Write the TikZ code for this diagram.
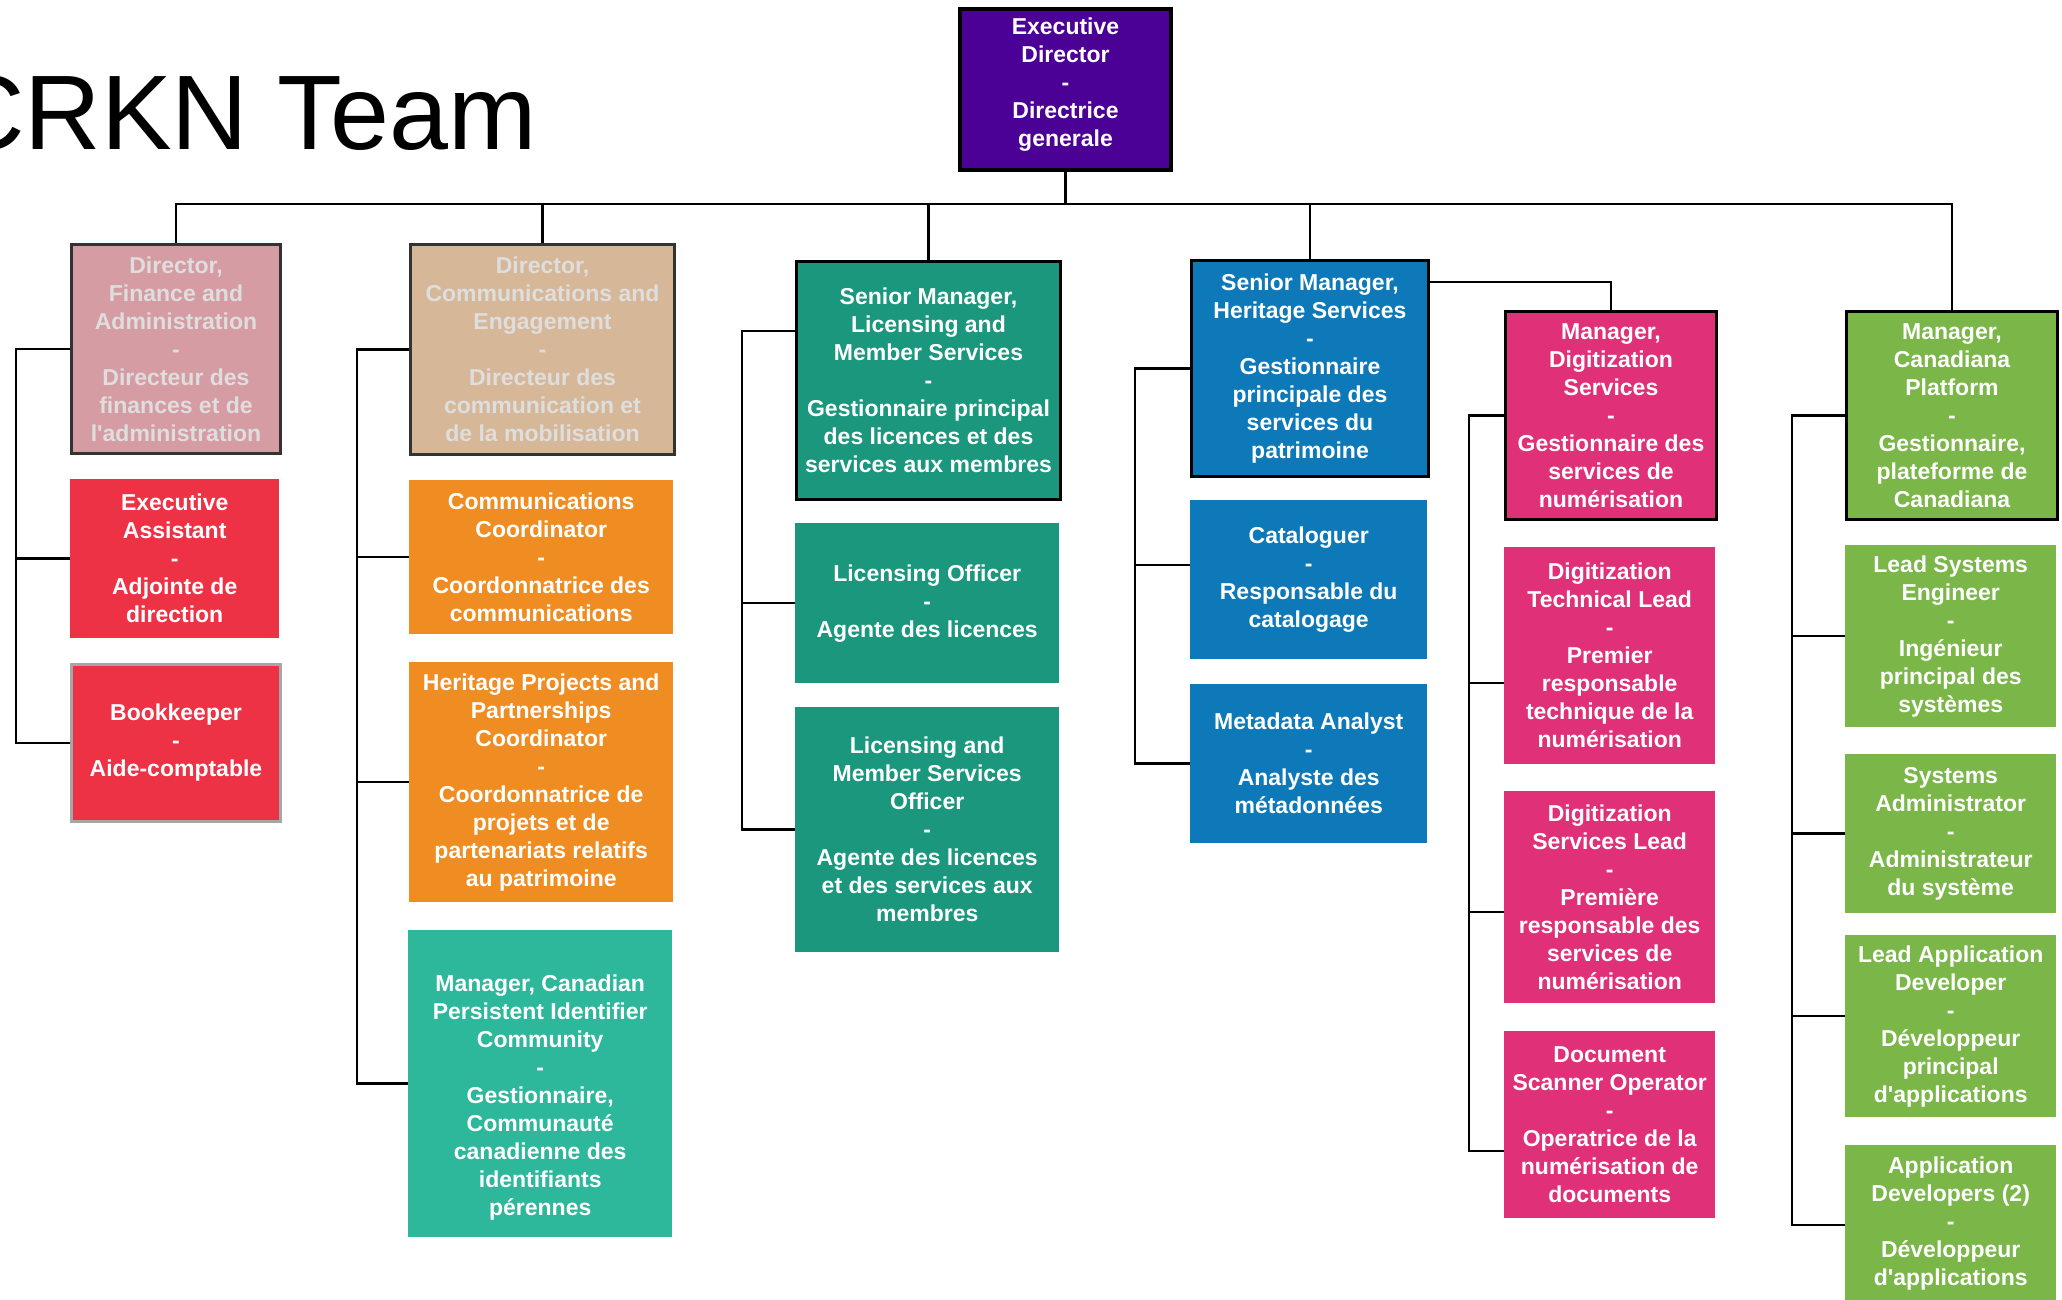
\documentclass[tikz,border=0pt]{standalone}
\usepackage{fontspec}
\setmainfont{Liberation Sans}
\usepackage{xcolor}
\usetikzlibrary{calc}
\definecolor{edpurple}{HTML}{4B0096}
\definecolor{finpink}{HTML}{D69CA3}
\definecolor{comtan}{HTML}{D6B899}
\definecolor{dimtext}{HTML}{DEDEDE}
\definecolor{adminred}{HTML}{EE3246}
\definecolor{commorange}{HTML}{F08D22}
\definecolor{pidteal}{HTML}{2DB89C}
\definecolor{licteal}{HTML}{1A977C}
\definecolor{herblue}{HTML}{0E79B9}
\definecolor{digpink}{HTML}{E03078}
\definecolor{canagreen}{HTML}{7AB648}
\newcommand{\boxfont}{\bfseries\fontsize{23}{28}\selectfont}
\newcommand{\q}{\textquotesingle}
\tikzset{
  box/.style={rectangle,anchor=north west,align=center,inner sep=0pt,text=white,font=\boxfont},
  lead/.style={box,draw=black,line width=3pt},
  dimbox/.style={lead,draw=black!80,text=dimtext},
  link/.style={line width=2.5pt},
  colA/.style={minimum width=209pt},
  colB/.style={minimum width=264pt},
  colC/.style={minimum width=237pt},
  colD/.style={minimum width=211pt}
}

\begin{document}
\begin{tikzpicture}[x=1pt,y=-1pt]
  \useasboundingbox (0,0) rectangle (2062,1300);
  \node[anchor=base west,inner sep=0pt,font=\fontsize{106}{120}\selectfont] (title) at (-52,150) {CRKN Team};

  \node[lead,line width=4pt,fill=edpurple,minimum width=211pt,minimum height=161pt] (ed) at (958,7)
    {Executive\\Director\\-\\Directrice\\generale\rule[-14pt]{0pt}{1pt}};

  \node[dimbox,colA,fill=finpink,minimum height=209pt] (dfa) at (70,243)
    {Director,\\Finance and\\Administration\\-\\Directeur des\\finances et de\\l\q administration};
  \node[box,colA,fill=adminred,minimum height=159pt] (ea) at (70,479)
    {Executive\\Assistant\\-\\Adjointe de\\direction};
  \node[box,colA,fill=adminred,draw=gray!70,line width=3pt,minimum height=157pt] (bk) at (70,663)
    {Bookkeeper\\-\\Aide-comptable};

  \node[dimbox,colB,fill=comtan,minimum height=210pt] (dce) at (409,243)
    {Director,\\Communications and\\Engagement\\-\\Directeur des\\communication et\\de la mobilisation};
  \node[box,colB,fill=commorange,minimum height=154pt] (cc) at (409,480)
    {Communications\\Coordinator\\-\\Coordonnatrice des\\communications};
  \node[box,colB,fill=commorange,minimum height=240pt] (hpp) at (409,662)
    {Heritage Projects and\\Partnerships\\Coordinator\\-\\Coordonnatrice de\\projets et de\\partenariats relatifs\\au patrimoine};
  \node[box,colB,fill=pidteal,minimum height=307pt] (cpid) at (408,930)
    {\rule{0pt}{45pt}Manager, Canadian\\Persistent Identifier\\Community\\-\\Gestionnaire,\\Communauté\\canadienne des\\identifiants\\pérennes};

  \node[lead,colB,fill=licteal,minimum height=238pt] (sml) at (795,260)
    {Senior Manager,\\Licensing and\\Member Services\\-\\Gestionnaire principal\\des licences et des\\services aux membres};
  \node[box,colB,fill=licteal,minimum height=160pt] (lo) at (795,523)
    {Licensing Officer\\-\\Agente des licences};
  \node[box,colB,fill=licteal,minimum height=245pt] (lmso) at (795,707)
    {Licensing and\\Member Services\\Officer\\-\\Agente des licences\\et des services aux\\membres};

  \node[lead,colC,fill=herblue,minimum height=216pt] (smh) at (1190,259)
    {Senior Manager,\\Heritage Services\\-\\Gestionnaire\\principale des\\services du\\patrimoine};
  \node[box,colC,fill=herblue,minimum height=159pt] (cat) at (1190,500)
    {Cataloguer\\-\\Responsable du\\catalogage};
  \node[box,colC,fill=herblue,minimum height=159pt] (ma) at (1190,684)
    {Metadata Analyst\\-\\Analyste des\\métadonnées};

  \node[lead,colD,fill=digpink,minimum height=208pt] (mds) at (1504,310)
    {Manager,\\Digitization\\Services\\-\\Gestionnaire des\\services de\\numérisation};
  \node[box,colD,fill=digpink,minimum height=217pt] (dtl) at (1504,547)
    {Digitization\\Technical Lead\\-\\Premier\\responsable\\technique de la\\numérisation};
  \node[box,colD,fill=digpink,minimum height=212pt] (dsl) at (1504,791)
    {Digitization\\Services Lead\\-\\Première\\responsable des\\services de\\numérisation};
  \node[box,colD,fill=digpink,minimum height=187pt] (dso) at (1504,1031)
    {Document\\Scanner Operator\\-\\Operatrice de la\\numérisation de\\documents};

  \node[lead,colD,fill=canagreen,minimum height=208pt] (mcp) at (1845,310)
    {Manager,\\Canadiana\\Platform\\-\\Gestionnaire,\\plateforme de\\Canadiana};
  \node[box,colD,fill=canagreen,minimum height=182pt] (lse) at (1845,545)
    {Lead Systems\\Engineer\\-\\Ingénieur\\principal des\\systèmes};
  \node[box,colD,fill=canagreen,minimum height=159pt] (sa) at (1845,754)
    {Systems\\Administrator\\-\\Administrateur\\du système};
  \node[box,colD,fill=canagreen,minimum height=182pt] (lad) at (1845,935)
    {Lead Application\\Developer\\-\\Développeur\\principal\\d\q applications};
  \node[box,colD,fill=canagreen,minimum height=157pt] (apd) at (1845,1145)
    {Application\\Developers (2)\\-\\Développeur\\d\q applications};

  \coordinate (bus) at (0,204);
  \coordinate (s1) at (16,0);
  \coordinate (s2) at (357,0);
  \coordinate (s3) at (742,0);
  \coordinate (s4) at (1135,0);
  \coordinate (s5) at (1469,0);
  \coordinate (s6) at (1792,0);
  \coordinate (l0) at ($(sml.north west)+(0,71)$);
  \coordinate (c0) at ($(cat.north west)+(0,65)$);
  \coordinate (h0) at ($(smh.north east)+(0,23)$);
  \coordinate (d1) at ($(dtl.north west)+(0,136)$);
  \coordinate (d2) at ($(dsl.north west)+(0,121)$);
  \coordinate (d3) at ($(dso.north west)+(0,120)$);
  \coordinate (a1) at ($(lad.north west)+(0,81)$);
  \coordinate (a2) at ($(apd.north west)+(0,80)$);

  \draw[link] (dfa.north) -- (dfa.north |- bus) -- (mcp.north |- bus) -- (mcp.north);
  \foreach \n in {ed.south,dce.north,sml.north,smh.north}
    \draw[link] (\n) -- (\n |- bus);
  \draw[link] (h0) -| (mds.north);

  \draw[link] (dfa.west) -| (s1 |- bk.west) -- (bk.west);
  \draw[link] (s1 |- ea.west) -- (ea.west);

  \draw[link] (dce.west) -| (s2 |- cpid.west) -- (cpid.west);
  \foreach \n in {cc,hpp}
    \draw[link] (s2 |- \n.west) -- (\n.west);

  \draw[link] (l0) -| (s3 |- lmso.west) -- (lmso.west);
  \draw[link] (s3 |- lo.west) -- (lo.west);

  \draw[link] (smh.west) -| (s4 |- ma.west) -- (ma.west);
  \draw[link] (s4 |- c0) -- (c0);

  \draw[link] (mds.west) -| (s5 |- d3) -- (d3);
  \foreach \n in {d1,d2}
    \draw[link] (s5 |- \n) -- (\n);

  \draw[link] (mcp.west) -| (s6 |- a2) -- (a2);
  \foreach \n in {lse.west,sa.west,a1}
    \draw[link] (s6 |- \n) -- (\n);
\end{tikzpicture}
\end{document}
